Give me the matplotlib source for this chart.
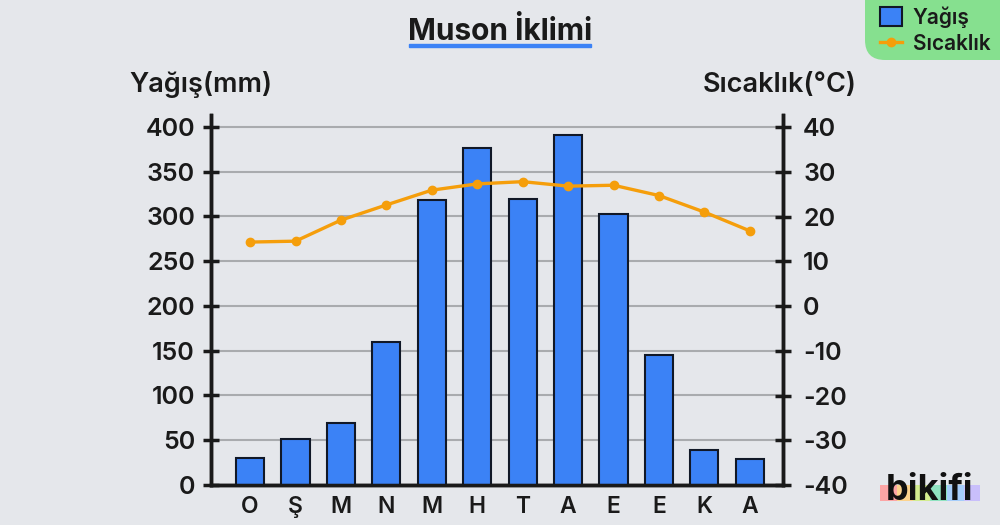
import matplotlib
matplotlib.use("Agg")
import matplotlib.pyplot as plt
from matplotlib.lines import Line2D
from matplotlib.patches import FancyBboxPatch, Patch, Rectangle

# data
months = ["O", "Ş", "M", "N", "M", "H", "T", "A", "E", "E", "K", "A"]
rain = [30, 51, 69, 160, 318, 376, 320, 391, 303, 145, 39, 29]
temp = [14.3, 14.5, 19.2, 22.6, 25.9, 27.3, 27.8, 26.8, 27.0, 24.7, 21.0, 16.8]
rain_ticks = [0, 50, 100, 150, 200, 250, 300, 350, 400]
temp_ticks = [-40, -30, -20, -10, 0, 10, 20, 30, 40]
logo_colors = ["#fca5a5", "#fcd38d", "#d3ec8f", "#8fe3c0", "#a5cdfb", "#c9bffb"]

BG = "#e5e7eb"
INK = "#1a1a1a"
BLUE = "#3b82f6"
ORANGE = "#f59e0b"
GREEN = "#86e08f"

plt.rcParams["font.family"] = ["Inter", "DejaVu Sans"]
plt.rcParams["font.weight"] = "semibold"
plt.rcParams["axes.unicode_minus"] = False

fig = plt.figure(figsize=(10, 5.25), dpi=100, facecolor=BG)
W, H = 1000, 525

# axes box in pixels: x 211-783, y 115-485
ax = fig.add_axes([211 / W, (H - 485) / H, 572 / W, 370 / H], facecolor="none")
x = list(range(len(months)))

ax.set_axisbelow(True)
ax.yaxis.grid(True, color="#a9abae", linewidth=1.5)
ax.xaxis.grid(False)
ax.bar(x, rain, width=0.62, color=BLUE, edgecolor="#111827", linewidth=1.5, zorder=3)
ax.set_xlim(-0.86, 11.73)
ax.set_ylim(0, 413.4)
ax.set_yticks(rain_ticks)
ax.set_xticks(x)
ax.set_xticklabels(months)
ax.tick_params(axis="x", length=0, pad=8, labelsize=16.5, colors=INK)
ax.tick_params(axis="y", direction="inout", length=11, width=2.5, pad=6, labelsize=18, colors=INK)

ax2 = ax.twinx()
ax2.plot(x, temp, color=ORANGE, linewidth=2.4, marker="o", markersize=6, zorder=5)
ax2.set_ylim(-40, 42.7)
ax2.set_yticks(temp_ticks)
ax2.tick_params(axis="y", direction="inout", length=11, width=2.5, pad=9, labelsize=18, colors=INK)

for a in (ax, ax2):
    a.spines["top"].set_visible(False)
    for s in ("left", "right", "bottom"):
        a.spines[s].set_linewidth(2.5)
        a.spines[s].set_color(INK)

# texts
fig.text(500 / W, (H - 32) / H, "Muson İklimi", ha="center", va="center",
         fontsize=21.5, fontweight="bold", color=INK)
fig.add_artist(FancyBboxPatch((409 / W, (H - 47) / H), 182 / W, 3 / H, boxstyle="square,pad=0",
                              transform=fig.transFigure, facecolor=BLUE, edgecolor=BLUE, linewidth=1))
fig.text(201 / W, (H - 85) / H, "Yağış(mm)", ha="center", va="center", fontsize=19.5, color=INK)
fig.text(780 / W, (H - 85) / H, "Sıcaklık(°C)", ha="center", va="center", fontsize=19.5, color=INK)

# legend box, running off the top right corner
fig.add_artist(FancyBboxPatch((865 / W, (H - 60) / H), 200 / W, 100 / H,
                              boxstyle="round,pad=0,rounding_size=0.02", mutation_aspect=1.9,
                              transform=fig.transFigure, facecolor=GREEN, edgecolor="none"))
handles = [Patch(facecolor=BLUE, edgecolor="#111827", linewidth=1.5),
           Line2D([0], [0], color=ORANGE, linewidth=2.4, marker="o", markersize=6)]
fig.legend(handles, ["Yağış", "Sıcaklık"], loc="upper left", bbox_to_anchor=(880 / W, (H - 6) / H),
           frameon=False, fontsize=15, labelcolor=INK, handlelength=1.05, handleheight=1.0,
           handletextpad=0.53, labelspacing=0.3, borderpad=0, borderaxespad=0)

# logo
for i, c in enumerate(logo_colors):
    fig.add_artist(Rectangle(((880 + i * 16.7) / W, (H - 501) / H), 16.7 / W, 16 / H,
                             transform=fig.transFigure, facecolor=c, edgecolor="none"))
fig.text(930 / W, (H - 491) / H, "bikifi", ha="center", va="center", fontsize=26,
         fontweight="bold", color="#111111")

fig.savefig("out.png", dpi=100, facecolor=BG)
